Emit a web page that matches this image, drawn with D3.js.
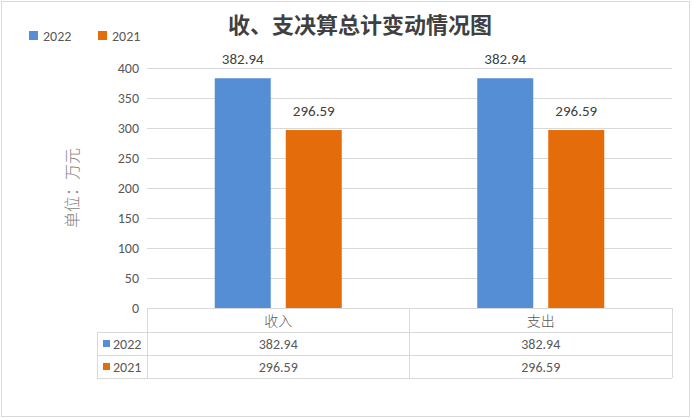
<!DOCTYPE html>
<html>
<head>
<meta charset="utf-8">
<script src="https://cdn.jsdelivr.net/npm/d3@7"></script>
<style>
  body { margin: 0; background: #fff; }
  svg { display: block; font-family: "Carlito", "Lato", "Noto Sans CJK SC", sans-serif; }
</style>
</head>
<body>
<svg id="chart" width="692" height="418"></svg>
<script>
const categories = ["收入", "支出"];
const seriesNames = ["2022", "2021"];
const values2022 = [382.94, 382.94];
const values2021 = [296.59, 296.59];
const yTicks = [0, 50, 100, 150, 200, 250, 300, 350, 400];

const colors = { "2022": "#558ed5", "2021": "#e46c0a" };
const seriesValues = { "2022": values2022, "2021": values2021 };

const W = 692, H = 418;
const plot = { l: 147, r: 672, t: 68, b: 308 };
const table = { left: 97, rowH: [24, 23, 23] };
const gridColor = "#d9d9d9";
const textColor = "#595959";

const svg = d3.select("#chart");

// outer frame
svg.append("rect")
  .attr("x", 1.5).attr("y", 1.5)
  .attr("width", W - 4).attr("height", H - 3)
  .attr("fill", "#fff").attr("stroke", "#d9d9d9");

const y = d3.scaleLinear().domain([0, 400]).range([plot.b, plot.t]);
const x0 = d3.scaleBand().domain(categories).range([plot.l, plot.r]);
const x1 = d3.scaleBand().domain(seriesNames)
  .range([0, x0.bandwidth()])
  .paddingInner(15 / 71)
  .paddingOuter(0.954);

// gridlines
svg.append("g")
  .selectAll("line")
  .data(yTicks.filter((d) => d > 0))
  .enter()
  .append("line")
  .attr("x1", plot.l).attr("x2", plot.r)
  .attr("y1", (d) => y(d) + 0.5).attr("y2", (d) => y(d) + 0.5)
  .attr("stroke", gridColor);

// y tick labels
svg.append("g")
  .selectAll("text")
  .data(yTicks)
  .enter()
  .append("text")
  .attr("x", 139)
  .attr("y", (d) => y(d) + 5)
  .attr("text-anchor", "end")
  .attr("font-size", 14)
  .attr("fill", textColor)
  .text((d) => d);

// y axis title
svg.append("text")
  .attr("transform", "translate(78,188) rotate(-90)")
  .attr("text-anchor", "middle")
  .attr("font-family", "Noto Sans CJK SC")
  .attr("font-weight", 300)
  .attr("font-size", 16)
  .attr("fill", "#7f7f7f")
  .text("单位：万元");

// bars
const groups = svg.append("g")
  .selectAll("g")
  .data(categories)
  .enter()
  .append("g")
  .attr("transform", (c) => `translate(${x0(c)},0)`);

groups.selectAll("rect")
  .data((c, i) => seriesNames.map((s) => ({ s, v: seriesValues[s][i] })))
  .enter()
  .append("rect")
  .attr("x", (d) => x1(d.s))
  .attr("width", x1.bandwidth())
  .attr("y", (d) => y(d.v))
  .attr("height", (d) => y(0) - y(d.v))
  .attr("fill", (d) => colors[d.s]);

groups.selectAll("text")
  .data((c, i) => seriesNames.map((s) => ({ s, v: seriesValues[s][i] })))
  .enter()
  .append("text")
  .attr("x", (d) => x1(d.s) + x1.bandwidth() / 2)
  .attr("y", (d) => y(d.v) - 14)
  .attr("text-anchor", "middle")
  .attr("font-size", 15)
  .attr("fill", "#404040")
  .text((d) => d.v.toFixed(2));

// data table
const rowTops = [plot.b, plot.b + table.rowH[0], plot.b + table.rowH[0] + table.rowH[1]];
const tableBottom = rowTops[2] + table.rowH[2];
const tg = svg.append("g").attr("stroke", gridColor).attr("shape-rendering", "crispEdges");

tg.append("line").attr("x1", plot.l).attr("x2", plot.r).attr("y1", rowTops[0]).attr("y2", rowTops[0]);
[rowTops[1], rowTops[2], tableBottom].forEach((yy) => {
  tg.append("line").attr("x1", table.left).attr("x2", plot.r).attr("y1", yy).attr("y2", yy);
});
tg.append("line").attr("x1", table.left).attr("x2", table.left).attr("y1", rowTops[1]).attr("y2", tableBottom);
[plot.l, x0(categories[1]), plot.r].forEach((xx) => {
  tg.append("line").attr("x1", xx).attr("x2", xx).attr("y1", rowTops[0]).attr("y2", tableBottom);
});

// category headers
svg.append("g")
  .selectAll("text")
  .data(categories)
  .enter()
  .append("text")
  .attr("x", (c) => x0(c) + x0.bandwidth() / 2)
  .attr("y", rowTops[0] + 18)
  .attr("text-anchor", "middle")
  .attr("font-family", "Noto Sans CJK SC")
  .attr("font-weight", 300)
  .attr("font-size", 14)
  .attr("fill", textColor)
  .text((c) => c);

// series rows
seriesNames.forEach((s, si) => {
  const top = rowTops[si + 1];
  svg.append("rect")
    .attr("x", 103).attr("y", top + 8)
    .attr("width", 7).attr("height", 7)
    .attr("fill", colors[s]);
  svg.append("text")
    .attr("x", 113).attr("y", top + 17)
    .attr("font-size", 14)
    .attr("fill", textColor)
    .text(s);
  svg.append("g")
    .selectAll("text")
    .data(categories)
    .enter()
    .append("text")
    .attr("x", (c) => x0(c) + x0.bandwidth() / 2)
    .attr("y", top + 17)
    .attr("text-anchor", "middle")
    .attr("font-size", 14)
    .attr("fill", textColor)
    .text((c, i) => seriesValues[s][i].toFixed(2));
});

// legend
seriesNames.forEach((s, i) => {
  const lx = 29 + i * 69;
  svg.append("rect")
    .attr("x", lx).attr("y", 31)
    .attr("width", 9).attr("height", 9)
    .attr("fill", colors[s]);
  svg.append("text")
    .attr("x", lx + 14).attr("y", 41)
    .attr("font-size", 14)
    .attr("fill", textColor)
    .text(s);
});

// title
svg.append("text")
  .attr("x", 360)
  .attr("y", 33)
  .attr("text-anchor", "middle")
  .attr("font-family", "Noto Sans CJK SC")
  .attr("font-weight", 700)
  .attr("font-size", 22)
  .attr("fill", "#404040")
  .text("收、支决算总计变动情况图");
</script>
</body>
</html>
